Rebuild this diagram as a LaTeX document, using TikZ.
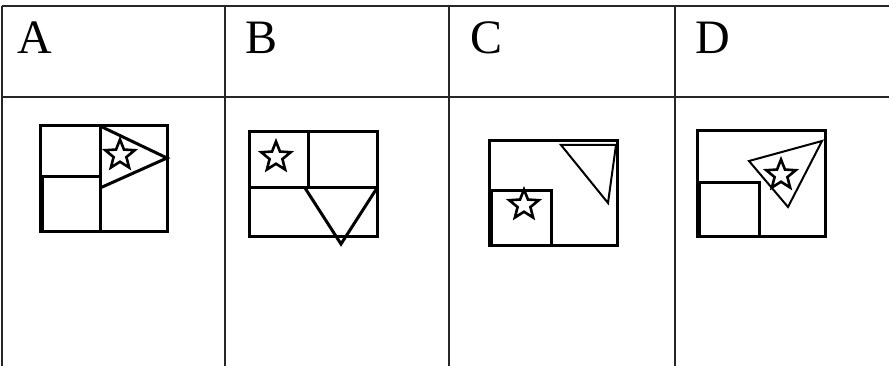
\documentclass[tikz,border=0pt]{standalone}
\usepackage{fontspec}
\setmainfont{Liberation Serif}
\usetikzlibrary{shapes.geometric}
\begin{document}
\begin{tikzpicture}[x=1pt,y=-1pt,
  grid/.style={line width=1.5pt, draw=black!85},
  fig/.style={line width=3pt, line join=miter},
  thin fig/.style={line width=2pt, line join=miter},
  starbox/.style={star, star points=5, star point ratio=2.3, draw, line width=2.6pt, minimum size=31pt, inner sep=0pt},
  letter/.style={anchor=base west, inner sep=0pt, font=\fontsize{48}{48}\selectfont}]
\useasboundingbox (0,0) rectangle (889,366);
\fill[white] (0,0) rectangle (889,366);
% table
\draw[grid] (2,6) -- (889,6);
\draw[grid] (2,97) -- (889,97);
\foreach \x in {2,225,449,675} \draw[grid] (\x,6) -- (\x,366);
\node[letter] (lA) at (17,54) {A};
\node[letter] (lB) at (245,54) {B};
\node[letter] (lC) at (470,54) {C};
\node[letter] (lD) at (695,54) {D};
% Panel A
\draw[fig] (40,126) rectangle (167,232);
\draw[fig] (100,126) -- (100,232);
\draw[fig] (40,177) -- (100,177);
\draw[line width=5pt] (41,177) -- (41,232);
\draw[fig] (100,126) -- (167,158) -- (100,188);
\node[starbox] (sA) at (120,155) {};
% Panel B
\draw[fig] (249,132) rectangle (377,237);
\draw[fig] (308,132) -- (308,188);
\draw[fig] (249,188) -- (377,188);
\draw[fig] (305,188) -- (341,244) -- (377,188);
\node[starbox] (sB) at (276,157) {};
% Panel C
\draw[fig] (489,141) rectangle (617,246);
\draw[fig] (489,191) -- (551,191) -- (551,246);
\draw[line width=5pt] (490,191) -- (490,246);
\draw[thin fig] (561,145) -- (616,145) -- (608,203) -- cycle;
\node[starbox] (sC) at (524,205) {};
% Panel D
\draw[fig] (697,131) rectangle (825,237);
\draw[fig] (697,183) -- (759,183) -- (759,237);
\draw[line width=5pt] (698,183) -- (698,237);
\draw[thin fig] (749,161) -- (822,141) -- (788,207) -- cycle;
\node[starbox] (sD) at (781,175) {};
\end{tikzpicture}
\end{document}
